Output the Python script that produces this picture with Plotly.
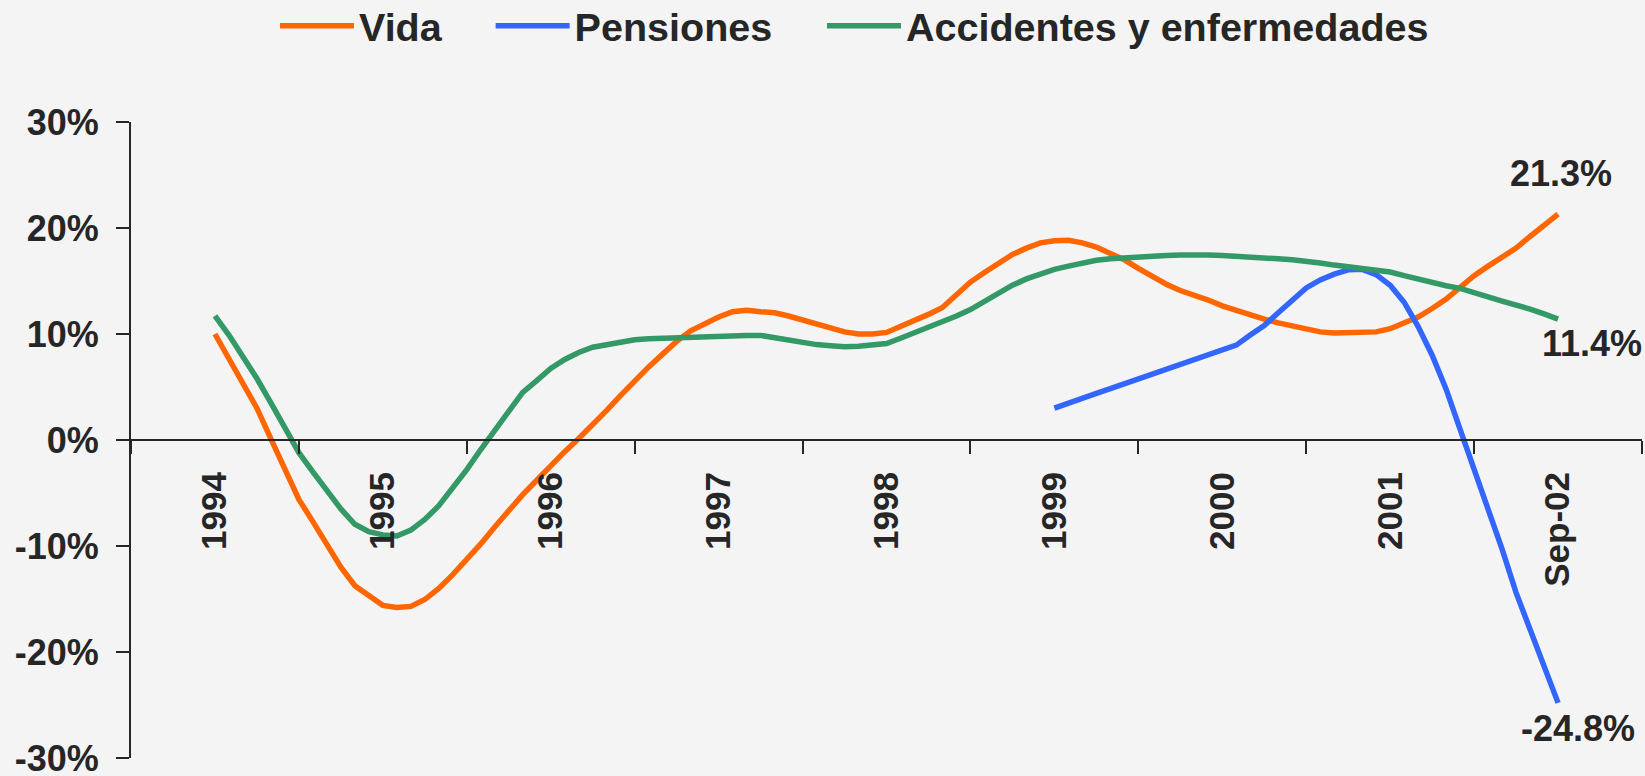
import pandas as pd
import plotly.graph_objects as go

# Monthly categories (Sep-94 ... Sep-02)
months = list(pd.date_range("1994-09-01", "2002-09-01", freq="MS").strftime("%b-%y"))

vida = [10.0, 7.7, 5.3, 3.0, 0.1, -2.8, -5.6, -7.7, -9.9, -12.0,
        -13.75, -14.7, -15.6, -15.8, -15.7, -15.05, -14.0, -12.7, -11.3, -9.8,
        -8.2, -6.6, -5.15, -3.8, -2.4, -1.1, 0.15, 1.4, 2.8, 4.2,
        5.6, 6.9, 8.1, 9.3, 10.3, 11.0, 11.6, 12.1, 12.25, 12.1,
        12.0, 11.7, 11.35, 10.95, 10.6, 10.2, 10.0, 10.0, 10.15, 10.7,
        11.3, 11.85, 12.5, 13.7, 14.9, 15.8, 16.7, 17.5, 18.1, 18.6,
        18.8, 18.85, 18.6, 18.2, 17.6, 17.0, 16.2, 15.4, 14.7, 14.1,
        13.7, 13.2, 12.65, 12.2, 11.8, 11.4, 11.05, 10.75, 10.5, 10.2,
        10.1, 10.1, 10.1, 10.2, 10.5, 11.0, 11.6, 12.4, 13.3, 14.4,
        15.5, 16.4, 17.2, 18.1, 19.2, 20.3, 21.3]

accidentes = [11.7, 9.9, 7.85, 5.8, 3.5, 1.1, -1.2, -3.0, -4.8, -6.5,
              -7.95, -8.65, -8.95, -9.05, -8.5, -7.5, -6.2, -4.6, -2.8, -0.9,
              0.95, 2.85, 4.5, 5.6, 6.75, 7.6, 8.25, 8.75, 9.0, 9.25,
              9.45, 9.55, 9.6, 9.7, 9.7, 9.75, 9.85, 9.87, 9.87, 9.87,
              9.65, 9.4, 9.15, 9.0, 8.9, 8.8, 8.85, 9.0, 9.1, 9.6,
              10.1, 10.6, 11.1, 11.7, 12.3, 13.1, 13.9, 14.6, 15.2, 15.7,
              16.1, 16.4, 16.7, 16.95, 17.1, 17.2, 17.3, 17.35, 17.4, 17.45,
              17.5, 17.45, 17.4, 17.35, 17.3, 17.2, 17.1, 17.0, 16.9, 16.7,
              16.5, 16.35, 16.2, 16.05, 15.85, 15.5, 15.15, 14.8, 14.55, 14.3,
              13.95, 13.5, 13.1, 12.75, 12.35, 11.9, 11.4]

pensiones = [3.0, 3.5, 3.95, 4.4, 4.85, 5.3, 5.8, 6.25, 6.7, 7.2,
             7.65, 8.0, 8.5, 8.95, 9.9, 10.8, 12.0, 13.2, 14.35, 15.1,
             15.65, 16.05, 16.1, 15.6, 14.6, 13.0, 10.7, 8.0, 4.8, 1.0,
             -2.75, -6.4, -10.3, -14.4, -17.8, -21.3, -24.8]
pensiones_months = months[len(months) - len(pensiones):]

label_months = ["Sep-94", "Sep-95", "Sep-96", "Sep-97", "Sep-98", "Sep-99", "Sep-00", "Sep-01", "Sep-02"]
label_text = ["1994", "1995", "1996", "1997", "1998", "1999", "2000", "2001", "Sep-02"]
boundary_ticks = [-6, 6, 18, 30, 42, 54, 66, 78, 90, 102]
y_ticks = [-30, -20, -10, 0, 10, 20, 30]
y_tick_text = ["-30%", "-20%", "-10%", "0%", "10%", "20%", "30%"]

C_VIDA = "#FF6600"
C_PENS = "#3366FF"
C_ACC = "#339966"
TXT = "#262626"
BG = "#F4F4F4"
FONT = "Liberation Sans, Arial, sans-serif"
LW = 5.5

fig = go.Figure()
fig.add_trace(go.Scatter(x=months, y=vida, name="Vida", mode="lines",
                         line=dict(color=C_VIDA, width=LW), legend="legend"))
fig.add_trace(go.Scatter(x=pensiones_months, y=pensiones, name="Pensiones", mode="lines",
                         line=dict(color=C_PENS, width=LW), legend="legend2"))
fig.add_trace(go.Scatter(x=months, y=accidentes, name="Accidentes y enfermedades", mode="lines",
                         line=dict(color=C_ACC, width=LW), legend="legend3"))

bold = dict(family=FONT, color=TXT, weight="bold")

fig.add_annotation(x=months[-1], y=vida[-1], text=f"{vida[-1]:.1f}%", showarrow=False,
                   yshift=41, xshift=3, font=dict(size=36, **bold))
fig.add_annotation(x=months[-1], y=accidentes[-1], text=f"{accidentes[-1]:.1f}%", showarrow=False,
                   yshift=-24, xshift=34, font=dict(size=36, **bold))
fig.add_annotation(x=pensiones_months[-1], y=pensiones[-1], text=f"{pensiones[-1]:.1f}%", showarrow=False,
                   yshift=-26, xshift=20, font=dict(size=36, **bold))

leg_common = dict(orientation="h", xanchor="left", y=1.1507, yanchor="middle",
                  font=dict(size=39.5, **bold), bgcolor="rgba(0,0,0,0)", itemwidth=74)

fig.update_layout(
    width=1645, height=776,
    margin=dict(l=131, r=3, t=122, b=18, autoexpand=False),
    paper_bgcolor=BG, plot_bgcolor=BG,
    showlegend=True,
    legend=dict(x=0.0953, **leg_common),
    legend2=dict(x=0.238, **leg_common),
    legend3=dict(x=0.4573, **leg_common),
    xaxis=dict(type="category", categoryorder="array", categoryarray=months,
               range=[-6, 102], anchor="free", position=0.5,
               showline=True, linecolor=TXT, linewidth=2,
               tickmode="array", tickvals=label_months, ticktext=label_text,
               ticks="", tickangle=-90, ticklabelstandoff=17,
               tickfont=dict(size=35, **bold), showgrid=False, zeroline=False,
               automargin=False),
    xaxis2=dict(overlaying="x", anchor="free", position=0.5, range=[-6, 102],
                tickmode="array", tickvals=boundary_ticks, ticks="outside",
                ticklen=13, tickwidth=2, tickcolor=TXT, showticklabels=False,
                showline=False, showgrid=False, zeroline=False, automargin=False),
    yaxis=dict(range=[-30, 30], tickmode="array", tickvals=y_ticks, ticktext=y_tick_text,
               showline=True, linecolor=TXT, linewidth=2,
               ticks="outside", ticklen=13, tickwidth=2, tickcolor=TXT,
               tickfont=dict(size=36, **bold), ticklabelstandoff=10,
               ticklabeloverflow="allow",
               showgrid=False, zeroline=False, automargin=False),
)

# invisible helper trace so the overlay tick axis is drawn
fig.add_trace(go.Scatter(x=[boundary_ticks[0], boundary_ticks[-1]], y=[0, 0], xaxis="x2",
                         mode="lines", line=dict(width=0), showlegend=False, hoverinfo="skip"))

page_fix = ("document.body.style.margin='0';"
            "document.body.style.overflow='hidden';"
            "document.body.style.background='" + BG + "';"
            "document.documentElement.style.background='" + BG + "';")

fig.write_html("out.html", post_script=page_fix, config={"displayModeBar": False})
